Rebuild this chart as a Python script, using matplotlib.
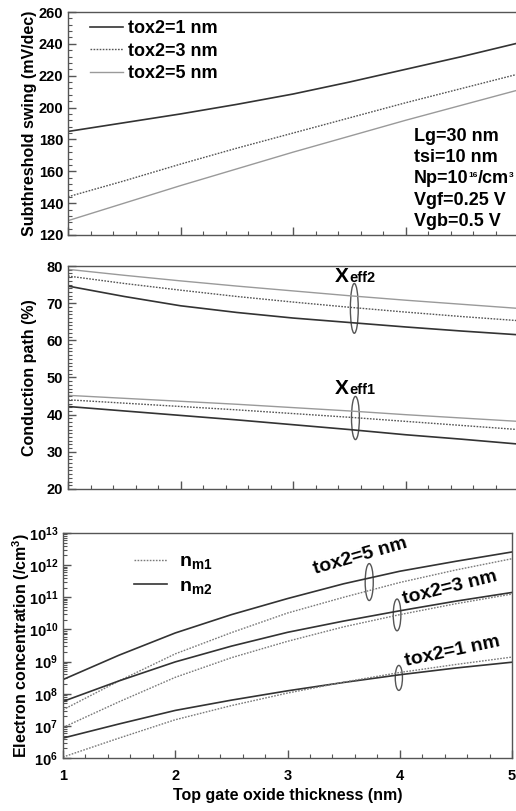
import numpy as np
import matplotlib
matplotlib.use("Agg")
import matplotlib.pyplot as plt
from matplotlib.patches import Ellipse
from matplotlib.ticker import MultipleLocator, LogLocator, NullFormatter
from matplotlib.lines import Line2D

plt.rcParams['font.family'] = ['Liberation Sans', 'DejaVu Sans']
plt.rcParams['font.weight'] = 'bold'
plt.rcParams['mathtext.fontset'] = 'custom'
plt.rcParams['mathtext.rm'] = 'Liberation Sans:bold'
plt.rcParams['mathtext.bf'] = 'Liberation Sans:bold'
plt.rcParams['mathtext.it'] = 'Liberation Sans:bold'

# ---------------- data ----------------
tox1 = [1, 1.5, 2, 2.5, 3, 3.5, 4, 4.5, 5]   # top gate oxide thickness (nm)
series_labels = ['tox2=1 nm', 'tox2=3 nm', 'tox2=5 nm']

ss_tox2_1 = [185, 190.5, 196, 202, 208.5, 216, 224, 232, 240.5]
ss_tox2_3 = [144, 154, 164.5, 174.5, 184, 193.5, 203, 212, 221]
ss_tox2_5 = [129, 140, 151, 161.5, 172, 182, 192, 201.5, 211]

xeff2_tox2_1 = [74.6, 71.8, 69.3, 67.5, 66.0, 64.8, 63.6, 62.5, 61.5]
xeff2_tox2_3 = [77.3, 75.3, 73.5, 71.8, 70.3, 68.9, 67.6, 66.4, 65.3]
xeff2_tox2_5 = [79.1, 77.5, 76.0, 74.6, 73.3, 72.0, 70.8, 69.7, 68.6]
xeff1_tox2_1 = [42.2, 41.0, 39.8, 38.6, 37.3, 36.0, 34.6, 33.4, 32.1]
xeff1_tox2_3 = [44.0, 43.1, 42.2, 41.3, 40.3, 39.3, 38.2, 37.1, 36.0]
xeff1_tox2_5 = [45.2, 44.4, 43.6, 42.8, 41.9, 41.0, 40.0, 39.1, 38.2]

# electron concentration, log10 of value (/cm^3)
log_nm2_tox2_5 = [8.44, 9.20, 9.89, 10.46, 10.96, 11.42, 11.81, 12.12, 12.41]
log_nm1_tox2_5 = [7.50, 8.40, 9.24, 9.90, 10.51, 11.00, 11.46, 11.85, 12.20]
log_nm2_tox2_3 = [7.76, 8.40, 8.99, 9.48, 9.91, 10.26, 10.58, 10.88, 11.15]
log_nm1_tox2_3 = [6.95, 7.75, 8.51, 9.12, 9.63, 10.08, 10.46, 10.80, 11.10]
log_nm2_tox2_1 = [6.62, 7.06, 7.48, 7.80, 8.09, 8.35, 8.59, 8.80, 8.98]
log_nm1_tox2_1 = [6.03, 6.62, 7.19, 7.63, 8.02, 8.36, 8.66, 8.91, 9.14]

# ---------------- styles ----------------
c1, c3, c5 = '#333333', '#555555', '#9a9a9a'
dot = (0, (1.2, 1.0))
spine_c = '#555555'

fig = plt.figure(figsize=(5.16, 8.11), dpi=100)
W, H = 516.0, 811.0

def axes_px(left, top, right, bottom):
    return fig.add_axes([left / W, 1 - bottom / H, (right - left) / W, (bottom - top) / H])

ax1 = axes_px(68, 12, 518, 235)
ax2 = axes_px(68, 266, 518, 489)
ax3 = axes_px(63, 533, 512, 758)

def style(ax):
    for s in ax.spines.values():
        s.set_color(spine_c)
        s.set_linewidth(1.0)
    ax.tick_params(which='both', direction='in', colors=spine_c, labelcolor='black',
                   labelsize=10.5)
    ax.tick_params(which='major', length=6, width=1.0)
    ax.tick_params(which='minor', length=3, width=0.8)
    ax.tick_params(axis='x', which='both', top=False)
    ax.tick_params(axis='y', which='both', right=False)
    ax.set_xlim(1, 5)
    ax.xaxis.set_major_locator(MultipleLocator(1))
    ax.xaxis.set_minor_locator(MultipleLocator(0.2))

# ---------- panel 1 ----------
style(ax1)
ax1.plot(tox1, ss_tox2_1, color=c1, lw=1.2, label=series_labels[0])
ax1.plot(tox1, ss_tox2_3, color=c3, lw=1.0, ls=dot, label=series_labels[1])
ax1.plot(tox1, ss_tox2_5, color=c5, lw=1.0, label=series_labels[2])
ax1.set_ylim(120, 260)
ax1.yaxis.set_major_locator(MultipleLocator(20))
ax1.yaxis.set_minor_locator(MultipleLocator(4))
ax1.set_xticklabels([])
ax1.set_ylabel('Subthreshold swing (mV/dec)', fontsize=11.5, fontweight='bold')
ax1.yaxis.set_label_coords(-0.068, 0.5)
ax1.legend(loc='upper left', bbox_to_anchor=(0.02, 1.02), frameon=False,
           fontsize=13, handlelength=1.85, handletextpad=0.3, labelspacing=0.3,
           borderaxespad=0.3)

block_x, block_y0, dy = 0.768, 0.232, 0.0955
for i, s in enumerate(['Lg=30 nm', 'tsi=10 nm']):
    ax1.text(block_x, block_y0 + (2 - i) * dy, s, transform=ax1.transAxes, fontsize=13,
             fontweight='bold', va='baseline', ha='left')
t_np = ax1.text(block_x, block_y0, 'Np=10', transform=ax1.transAxes, fontsize=13,
                fontweight='bold', va='baseline', ha='left')
t_16 = ax1.annotate('16', xy=(1.0, 1.0), xycoords=t_np, fontsize=6, fontweight='bold',
                    va='top', ha='left', xytext=(0.2, -1.5), textcoords='offset points')
t_cm = ax1.annotate('/cm', xy=(1.0, 0.0), xycoords=(t_16, t_np), fontsize=13,
                    fontweight='bold', va='bottom', ha='left')
ax1.annotate('3', xy=(1.0, 1.0), xycoords=t_cm, fontsize=6, fontweight='bold',
             va='top', ha='left', xytext=(0.2, -1.5), textcoords='offset points')
for i, s in enumerate(['Vgf=0.25 V', 'Vgb=0.5 V']):
    ax1.text(block_x, block_y0 - (i + 1) * dy, s, transform=ax1.transAxes, fontsize=13,
             fontweight='bold', va='baseline', ha='left')

# ---------- panel 2 ----------
style(ax2)
ax2.plot(tox1, xeff2_tox2_1, color=c1, lw=1.2)
ax2.plot(tox1, xeff2_tox2_3, color=c3, lw=1.0, ls=dot)
ax2.plot(tox1, xeff2_tox2_5, color=c5, lw=1.0)
ax2.plot(tox1, xeff1_tox2_1, color=c1, lw=1.2)
ax2.plot(tox1, xeff1_tox2_3, color=c3, lw=1.0, ls=dot)
ax2.plot(tox1, xeff1_tox2_5, color=c5, lw=1.0)
ax2.set_ylim(20, 80)
ax2.yaxis.set_major_locator(MultipleLocator(10))
ax2.yaxis.set_minor_locator(MultipleLocator(1))
ax2.set_xticklabels([])
ax2.set_ylabel('Conduction path (%)', fontsize=11.5, fontweight='bold')
ax2.yaxis.set_label_coords(-0.068, 0.5)
ax2.add_patch(Ellipse((3.545, 68.6), 0.07, 13.4, fill=False, ec='#555555', lw=1.0))
ax2.add_patch(Ellipse((3.555, 39.1), 0.07, 11.6, fill=False, ec='#555555', lw=1.0))
ax2.text(3.50, 77.3, r'$\mathregular{X}$', fontsize=15, ha='right', va='center')
ax2.text(3.50, 76.9, 'eff2', fontsize=10.5, ha='left', va='center', fontweight='bold')
ax2.text(3.50, 47.1, r'$\mathregular{X}$', fontsize=15, ha='right', va='center')
ax2.text(3.50, 46.7, 'eff1', fontsize=10.5, ha='left', va='center', fontweight='bold')

# ---------- panel 3 ----------
style(ax3)
ax3.set_yscale('log')
ax3.set_ylim(1e6, 1e13)
ax3.yaxis.set_major_locator(LogLocator(base=10, numticks=20))
ax3.yaxis.set_minor_locator(LogLocator(base=10, subs=np.arange(2, 10), numticks=20))
ax3.yaxis.set_minor_formatter(NullFormatter())
for lg, ls, col in [(log_nm2_tox2_5, '-', c1), (log_nm1_tox2_5, dot, '#7a7a7a'),
                    (log_nm2_tox2_3, '-', c1), (log_nm1_tox2_3, dot, '#7a7a7a'),
                    (log_nm2_tox2_1, '-', c1), (log_nm1_tox2_1, dot, '#7a7a7a')]:
    ax3.plot(tox1, np.power(10.0, lg), color=col, ls=ls, lw=1.2 if ls == '-' else 1.0)
ax3.set_xlabel('Top gate oxide thickness (nm)', fontsize=11.5, fontweight='bold')
ax3.xaxis.set_label_coords(0.5, -0.135)
ax3.set_ylabel('Electron concentration (/cm$^{3}$)', fontsize=11.5, fontweight='bold')
ax3.yaxis.set_label_coords(-0.07, 0.5)
ax3.tick_params(axis='x', labelsize=10.5, pad=8)

h1 = Line2D([], [], color='#7a7a7a', ls=dot, lw=1.0)
h2 = Line2D([], [], color=c1, ls='-', lw=1.2)
ax3.legend([h1, h2], [r'$\mathregular{n_{m1}}$', r'$\mathregular{n_{m2}}$'],
           loc='upper left', bbox_to_anchor=(0.12, 0.99), frameon=False, fontsize=14,
           handlelength=1.7, handletextpad=0.6, labelspacing=0.3)

for (xa, ya, w, h) in [(0.682, 0.782, 0.018, 0.164), (0.744, 0.636, 0.017, 0.141),
                       (0.748, 0.356, 0.016, 0.111)]:
    ax3.add_patch(Ellipse((xa, ya), w, h, transform=ax3.transAxes, fill=False,
                          ec='#555555', lw=1.0))
ax3.text(3.65, 10**12.27, 'tox2=5 nm', rotation=16, fontsize=14, fontweight='bold',
         ha='center', va='center', rotation_mode='anchor')
ax3.text(4.45, 10**11.29, 'tox2=3 nm', rotation=14, fontsize=14, fontweight='bold',
         ha='center', va='center', rotation_mode='anchor')
ax3.text(4.47, 10**9.32, 'tox2=1 nm', rotation=12, fontsize=14, fontweight='bold',
         ha='center', va='center', rotation_mode='anchor')

fig.savefig('out.png', dpi=100)
